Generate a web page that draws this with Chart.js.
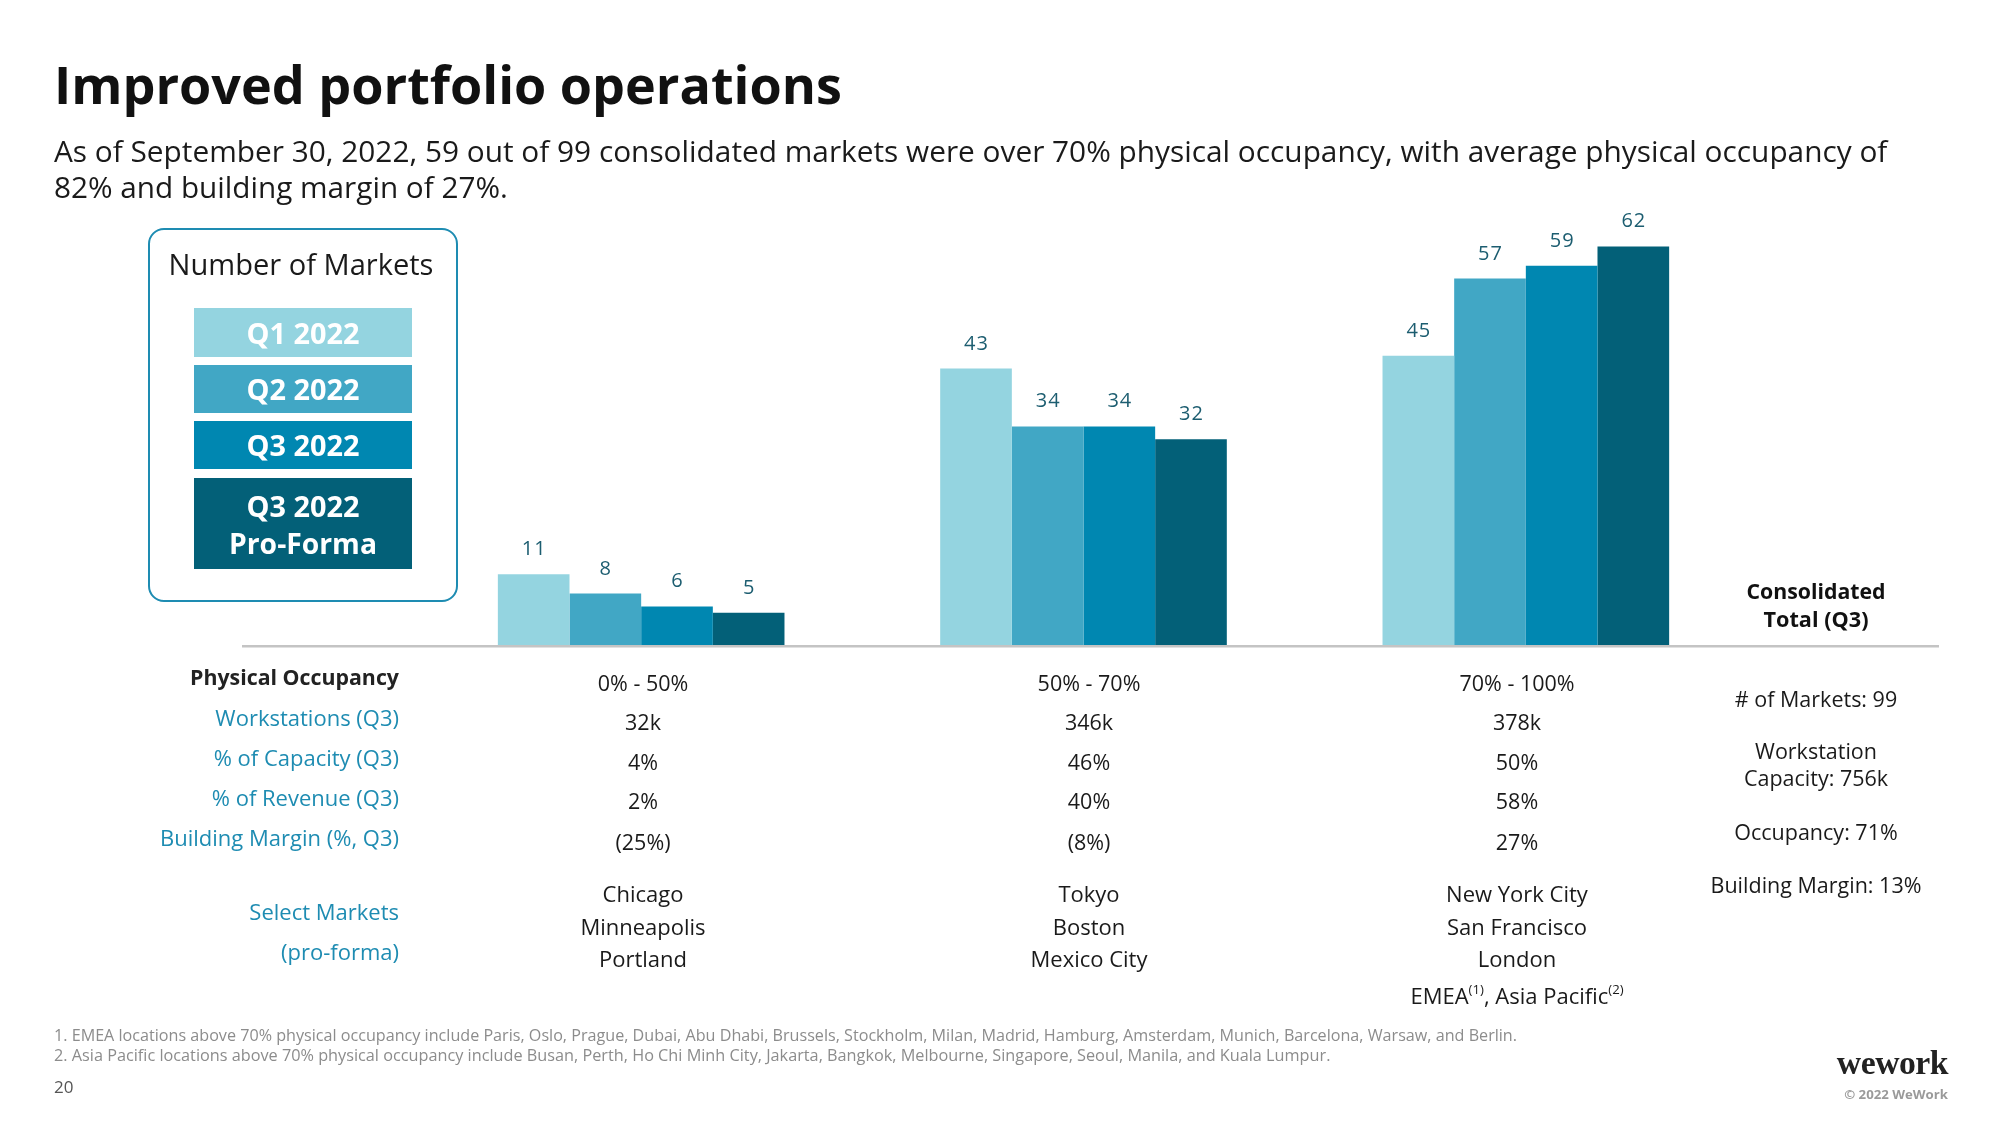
<!DOCTYPE html>
<html>
<head>
<meta charset="utf-8">
<script src="https://cdn.jsdelivr.net/npm/chart.js@4"></script>
<style>
  html, body { margin:0; padding:0; background:#fff; }
  #stage { position:relative; width:2000px; height:1125px; overflow:hidden; font-family:"Open Sans", "Noto Sans", sans-serif; }
  #chart { position:absolute; left:0; top:0; }
  .t { position:absolute; white-space:nowrap; line-height:1; }
  .box { position:absolute; box-sizing:border-box; }
  sup { font-size:0.6em; vertical-align:0; position:relative; top:-0.75em; }
</style>
</head>
<body>
<div id="stage">
  <canvas id="chart" width="2000" height="1125"></canvas>
</div>
<script>
// ---------- DATA ----------
const categories = ['0% - 50%', '50% - 70%', '70% - 100%'];
const seriesNames = ['Q1 2022', 'Q2 2022', 'Q3 2022', 'Q3 2022 Pro-Forma'];
const q1Markets = [11, 43, 45];
const q2Markets = [8, 34, 57];
const q3Markets = [6, 34, 59];
const proFormaMarkets = [5, 32, 62];
const rowLabels = ['Workstations (Q3)', '% of Capacity (Q3)', '% of Revenue (Q3)', 'Building Margin (%, Q3)'];
const workstations = ['32k', '346k', '378k'];
const capacityPct = ['4%', '46%', '50%'];
const revenuePct = ['2%', '40%', '58%'];
const buildingMargin = ['(25%)', '(8%)', '27%'];
const selectMarkets = [
  ['Chicago', 'Minneapolis', 'Portland'],
  ['Tokyo', 'Boston', 'Mexico City'],
  ['New York City', 'San Francisco', 'London', 'EMEA<sup>(1)</sup>, Asia Pacific<sup>(2)</sup>']
];
const totalLines = ['# of Markets: 99', 'Workstation', 'Capacity: 756k', 'Occupancy: 71%', 'Building Margin: 13%'];
const footnotes = [
  '1. EMEA locations above 70% physical occupancy include Paris, Oslo, Prague, Dubai, Abu Dhabi, Brussels, Stockholm, Milan, Madrid, Hamburg, Amsterdam, Munich, Barcelona, Warsaw, and Berlin.',
  '2. Asia Pacific locations above 70% physical occupancy include Busan, Perth, Ho Chi Minh City, Jakarta, Bangkok, Melbourne, Singapore, Seoul, Manila, and Kuala Lumpur.'
];

// ---------- STYLE ----------
const colors = ['#94D4E0', '#41A7C5', '#0087B1', '#036078'];
const teal = '#1E8CB2';
const labelColor = '#1C5D70';

const stage = document.getElementById('stage');
function T(html, x, y, o) {
  o = o || {};
  const d = document.createElement('div');
  d.className = 't';
  d.innerHTML = html;
  d.style.left = x + 'px';
  d.style.top = y + 'px';
  d.style.fontSize = (o.size || 20) + 'px';
  d.style.fontWeight = o.weight || 400;
  d.style.color = o.color || '#1a1a1a';
  if (o.family) d.style.fontFamily = o.family;
  if (o.ls) d.style.letterSpacing = o.ls + 'px';
  const tx = o.align === 'center' ? '-50%' : (o.align === 'right' ? '-100%' : '0');
  d.style.transform = 'translate(' + tx + ',-50%)';
  stage.appendChild(d);
  if (o.fitW) {
    const w = d.getBoundingClientRect().width;
    d.style.fontSize = ((o.size || 20) * o.fitW / w) + 'px';
  }
  return d;
}
function B(x, y, w, h, css) {
  const d = document.createElement('div');
  d.className = 'box';
  d.style.left = x + 'px'; d.style.top = y + 'px';
  d.style.width = w + 'px'; d.style.height = h + 'px';
  Object.assign(d.style, css);
  stage.appendChild(d);
  return d;
}

// Title & subtitle
T('Improved portfolio operations', 54, 84, {size: 54, weight: 700, color: '#111', fitW: 788});
T('As of September 30, 2022, 59 out of 99 consolidated markets were over 70% physical occupancy, with average physical occupancy of', 54, 151, {size: 29, fitW: 1834});
T('82% and building margin of 27%.', 54, 187, {size: 29, fitW: 454});

// Legend box
B(148, 228, 310, 374, {border: '2.5px solid ' + teal, borderRadius: '16px'});
T('Number of Markets', 301, 265, {size: 27, align: 'center', fitW: 265});
const swatches = [[308, 49], [365, 48], [421, 48], [478, 91]];
swatches.forEach((s, i) => B(194, s[0], 218, s[1], {background: colors[i]}));
T(seriesNames[0], 303, 333, {size: 27, weight: 700, color: '#fff', align: 'center', fitW: 113});
T(seriesNames[1], 303, 389, {size: 27, weight: 700, color: '#fff', align: 'center', fitW: 113});
T(seriesNames[2], 303, 445, {size: 27, weight: 700, color: '#fff', align: 'center', fitW: 113});
T('Q3 2022', 303, 506, {size: 27, weight: 700, color: '#fff', align: 'center', fitW: 113});
T('Pro-Forma', 303, 543, {size: 27, weight: 700, color: '#fff', align: 'center', fitW: 148});

// Table row labels
T('Physical Occupancy', 399, 677, {size: 21, weight: 700, color: '#222', align: 'right', fitW: 209});
const rowY = [717, 757, 797, 837];
rowLabels.forEach((r, i) => T(r, 399, rowY[i], {size: 22, color: teal, align: 'right'}));
T('Select Markets', 399, 911, {size: 22, color: teal, align: 'right'});
T('(pro-forma)', 399, 951, {size: 22, color: teal, align: 'right'});

// Table columns
const colX = [643, 1089, 1517];
const valY = [683, 722, 762, 801, 842];
const cols = [categories, workstations, capacityPct, revenuePct, buildingMargin];
for (let c = 0; c < 3; c++) {
  cols.forEach((arr, r) => T(arr[c], colX[c], valY[r], {size: 21.5, align: 'center'}));
  selectMarkets[c].forEach((m, k) => T(m, colX[c], 893 + k * 32.5 + (k === 3 ? 4 : 0), {size: 22, align: 'center'}));
}

// Consolidated total
T('Consolidated', 1816, 591, {size: 21, weight: 700, color: '#111', align: 'center', fitW: 139});
T('Total (Q3)', 1816, 619, {size: 21, weight: 700, color: '#111', align: 'center', fitW: 105});
const totY = [699, 751, 778, 832, 885];
totalLines.forEach((t, i) => T(t, 1816, totY[i], {size: 21.5, align: 'center'}));

// Footnotes and footer
T(footnotes[0], 54, 1035, {size: 15, color: '#8c8c8c', fitW: 1464});
T(footnotes[1], 54, 1055, {size: 15, color: '#8c8c8c', fitW: 1278});
T('20', 54, 1086, {size: 17, color: '#555'});
T('wework', 1948, 1063, {size: 32, weight: 700, color: '#222', align: 'right', family: '"Liberation Serif", serif', ls: -0.5, fitW: 111});
T('© 2022 WeWork', 1948, 1095, {size: 13.5, weight: 700, color: '#9a9a9a', align: 'right', fitW: 104});

// ---------- CHART ----------
const valueLabels = {
  id: 'valueLabels',
  afterDatasetsDraw(chart) {
    const ctx = chart.ctx;
    ctx.save();
    ctx.font = '20px "Open Sans", sans-serif';
    try { ctx.letterSpacing = '1px'; } catch (e) {}
    ctx.fillStyle = labelColor;
    ctx.textAlign = 'center';
    ctx.textBaseline = 'alphabetic';
    chart.data.datasets.forEach((ds, i) => {
      chart.getDatasetMeta(i).data.forEach((bar, j) => {
        ctx.fillText(String(ds.data[j]), bar.x + 0.5, bar.y - 19);
      });
    });
    ctx.restore();
  }
};
const baseLine = {
  id: 'baseLine',
  afterDatasetsDraw(chart) {
    const ctx = chart.ctx;
    const y = chart.scales.y.getPixelForValue(0) + 1.2;
    ctx.save();
    ctx.strokeStyle = '#C4C4C4';
    ctx.lineWidth = 2.5;
    ctx.beginPath();
    ctx.moveTo(242, y);
    ctx.lineTo(1939, y);
    ctx.stroke();
    ctx.restore();
  }
};

const seriesData = [q1Markets, q2Markets, q3Markets, proFormaMarkets];
new Chart(document.getElementById('chart'), {
  type: 'bar',
  data: {
    labels: categories,
    datasets: seriesData.map((d, i) => ({
      label: seriesNames[i],
      data: d,
      backgroundColor: colors[i],
      borderWidth: 0,
      categoryPercentage: 0.648,
      barPercentage: 1.0
    }))
  },
  options: {
    responsive: false,
    animation: false,
    layout: { padding: { left: 420, right: 253, top: 195, bottom: 480 } },
    plugins: { legend: { display: false }, tooltip: { enabled: false } },
    scales: {
      x: { display: false },
      y: { display: false, min: 0, max: 70 }
    }
  },
  plugins: [valueLabels, baseLine]
});
</script>
</body>
</html>
